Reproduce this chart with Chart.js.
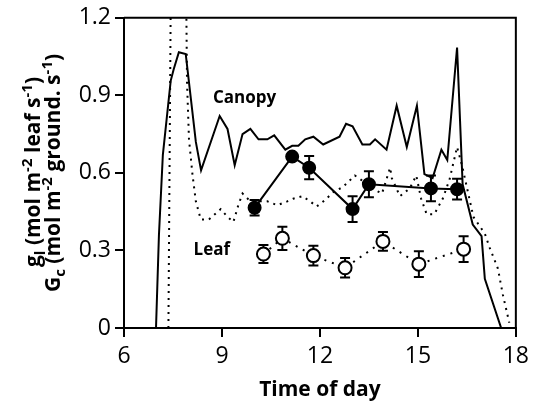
<!DOCTYPE html>
<html>
<head>
<meta charset="utf-8">
<script src="https://cdn.jsdelivr.net/npm/chart.js@4"></script>
<style>
  html, body { margin: 0; padding: 0; background: #fff; }
</style>
</head>
<body>
<canvas id="gcChart" width="535" height="403"></canvas>
<script>
// Canopy conductance, solid trace (time of day, mol m-2 ground s-1)
const canopyHours = [6.98, 7.07, 7.19, 7.43, 7.52, 7.68, 7.89, 8.2, 8.36, 8.93, 9.17, 9.39, 9.63, 9.87,
  10.12, 10.39, 10.6, 10.94, 11.15, 11.34, 11.55, 11.8, 12.1, 12.6, 12.8, 13.0, 13.3, 13.53, 13.69,
  14.04, 14.35, 14.66, 14.97, 15.2, 15.45, 15.72, 15.9, 16.2, 16.37, 16.68, 16.95, 17.05, 17.55];
const canopyValues = [0, 0.36, 0.67, 0.956, 1.0, 1.067, 1.06, 0.72, 0.61, 0.82, 0.77, 0.63, 0.75, 0.77,
  0.73, 0.73, 0.745, 0.69, 0.705, 0.705, 0.73, 0.74, 0.71, 0.74, 0.79, 0.78, 0.71, 0.71, 0.73,
  0.69, 0.86, 0.70, 0.86, 0.595, 0.58, 0.69, 0.65, 1.085, 0.556, 0.40, 0.355, 0.19, 0];

// Second canopy trace, dotted
const dottedHours = [7.36, 7.45, 7.88, 7.93, 7.99, 8.1, 8.2, 8.35, 8.6, 8.96, 9.17, 9.35, 9.5, 9.63,
  9.87, 10.18, 10.39, 10.7, 11.0, 11.18, 11.46, 11.7, 11.9, 12.16, 12.4, 12.7, 13.07, 13.3, 13.6,
  13.9, 14.15, 14.2, 14.45, 14.75, 14.95, 15.1, 15.27, 15.5, 15.76, 15.97, 16.2, 16.35, 16.7,
  17.05, 17.2, 17.45, 17.6, 17.8];
const dottedValues = [0, 1.6, 1.6, 0.95, 0.73, 0.59, 0.49, 0.42, 0.42, 0.46, 0.43, 0.41, 0.475, 0.52,
  0.49, 0.49, 0.49, 0.475, 0.49, 0.50, 0.51, 0.49, 0.47, 0.495, 0.525, 0.545, 0.59, 0.57, 0.54,
  0.52, 0.62, 0.58, 0.51, 0.54, 0.59, 0.50, 0.44, 0.44, 0.50, 0.575, 0.70, 0.63, 0.43,
  0.365, 0.31, 0.23, 0.13, 0.02];

// Filled circles (solid line) with error
const filledHours = [10.0, 11.15, 11.67, 13.0, 13.5, 15.4, 16.2];
const filledValues = [0.465, 0.663, 0.62, 0.46, 0.556, 0.54, 0.537];
const filledErr = [0.03, 0, 0.045, 0.05, 0.05, 0.05, 0.04];

// Leaf conductance, open circles (dotted line) with error
const leafHours = [10.27, 10.85, 11.8, 12.77, 13.93, 15.03, 16.4];
const leafValues = [0.286, 0.347, 0.28, 0.233, 0.335, 0.247, 0.305];
const leafErr = [0.035, 0.045, 0.038, 0.038, 0.036, 0.05, 0.05];

const xTicks = [6, 9, 12, 15, 18];
const yTicks = [0, 0.3, 0.6, 0.9, 1.2];

const toPoints = (xs, ys) => xs.map((x, i) => ({ x: x, y: ys[i] }));

// error bars, drawn under the markers
const errorBars = {
  id: "errorBars",
  beforeDatasetsDraw(chart) {
    const ctx = chart.ctx;
    const xs = chart.scales.x, ys = chart.scales.y;
    const sets = [[filledHours, filledValues, filledErr], [leafHours, leafValues, leafErr]];
    ctx.save();
    ctx.strokeStyle = "#000";
    ctx.lineWidth = 2;
    sets.forEach(function (s) {
      s[0].forEach(function (h, i) {
        if (!s[2][i]) return;
        const px = xs.getPixelForValue(h);
        const top = ys.getPixelForValue(s[1][i] + s[2][i]);
        const bot = ys.getPixelForValue(s[1][i] - s[2][i]);
        ctx.beginPath();
        ctx.moveTo(px, top); ctx.lineTo(px, bot);
        ctx.moveTo(px - 5, top); ctx.lineTo(px + 5, top);
        ctx.moveTo(px - 5, bot); ctx.lineTo(px + 5, bot);
        ctx.stroke();
      });
    });
    ctx.restore();
  }
};

// frame, labels and the two-line y title
const decorations = {
  id: "decorations",
  afterDraw(chart) {
    const ctx = chart.ctx;
    const a = chart.chartArea;
    const xs = chart.scales.x, ys = chart.scales.y;
    ctx.save();
    ctx.strokeStyle = "#000";
    ctx.lineWidth = 2;
    ctx.beginPath();
    ctx.moveTo(a.left, a.top); ctx.lineTo(a.right, a.top); ctx.lineTo(a.right, a.bottom);
    ctx.stroke();

    ctx.fillStyle = "#000";
    ctx.font = "bold 17px 'Open Sans'";
    ctx.textAlign = "center";
    ctx.textBaseline = "middle";
    ctx.fillText("Canopy", xs.getPixelForValue(9.69), ys.getPixelForValue(0.888));
    ctx.fillText("Leaf", xs.getPixelForValue(8.69), ys.getPixelForValue(0.30));

    const line1 = [["g", 0], ["l", 1], [" (mol m", 0], ["-2", -1], [" leaf s", 0], ["-1", -1], [")", 0]];
    const line2 = [["G", 0], ["c", 1], [" (mol m", 0], ["-2", -1], [" ground. s", 0], ["-1", -1], [")", 0]];
    drawRich(ctx, line1, 40, 172);
    drawRich(ctx, line2, 60, 173);
    ctx.restore();
  }
};

function drawRich(ctx, parts, bx, cy) {
  const big = "bold 21px 'Open Sans'";
  const small = "bold 15px 'Open Sans'";
  let total = 0;
  parts.forEach(function (p) {
    ctx.font = p[1] ? small : big;
    total += ctx.measureText(p[0]).width;
  });
  ctx.save();
  ctx.translate(bx, cy);
  ctx.rotate(-Math.PI / 2);
  ctx.textAlign = "left";
  ctx.textBaseline = "alphabetic";
  let x = -total / 2;
  parts.forEach(function (p) {
    ctx.font = p[1] ? small : big;
    const dy = p[1] === 1 ? 5 : p[1] === -1 ? -8 : 0;
    ctx.fillText(p[0], x, dy);
    x += ctx.measureText(p[0]).width;
  });
  ctx.restore();
}

const ctx = document.getElementById("gcChart").getContext("2d");
const gcChart = new Chart(ctx, {
  type: "line",
  data: {
    datasets: [
      {
        label: "Leaf",
        data: toPoints(leafHours, leafValues),
        borderColor: "#000",
        borderWidth: 2,
        borderDash: [2, 6],
        pointRadius: 6.5,
        pointBorderWidth: 2,
        pointBackgroundColor: "#fff",
        pointBorderColor: "#000",
      },
      {
        label: "Filled",
        data: toPoints(filledHours, filledValues),
        borderColor: "#000",
        borderWidth: 2,
        pointRadius: 6,
        pointBackgroundColor: "#000",
        pointBorderColor: "#000",
      },
      {
        label: "Canopy",
        data: toPoints(canopyHours, canopyValues),
        borderColor: "#000",
        borderWidth: 2,
        pointRadius: 0,
      },
      {
        label: "Canopy dotted",
        data: toPoints(dottedHours, dottedValues),
        borderColor: "#000",
        borderWidth: 2,
        borderDash: [2, 5],
        pointRadius: 0,
      },
    ],
  },
  options: {
    responsive: false,
    animation: false,
    layout: { padding: { top: 13, right: 19, left: 0, bottom: 0 } },
    plugins: {
      legend: { display: false },
      tooltip: { enabled: false },
    },
    scales: {
      x: {
        type: "linear",
        min: 6,
        max: 18,
        afterBuildTicks: (s) => { s.ticks = xTicks.map((v) => ({ value: v })); },
        afterFit: (s) => { s.height = 75; },
        grid: { drawOnChartArea: false, drawTicks: true, tickLength: 9, color: "#000", lineWidth: 2 },
        border: { display: true, color: "#000", width: 2 },
        ticks: { color: "#000", font: { family: "'Open Sans'", size: 23 }, padding: 6, maxRotation: 0 },
        title: { display: true, text: "Time of day", color: "#000", font: { family: "'Open Sans'", size: 21, weight: "bold" }, padding: 0 },
      },
      y: {
        min: 0,
        max: 1.2,
        afterBuildTicks: (s) => { s.ticks = yTicks.map((v) => ({ value: v })); },
        afterFit: (s) => { s.width = 124; },
        grid: { drawOnChartArea: false, drawTicks: true, tickLength: 9, color: "#000", lineWidth: 2 },
        border: { display: true, color: "#000", width: 2 },
        ticks: {
          color: "#000",
          font: { family: "'Open Sans'", size: 23 },
          padding: 4,
          callback: (v) => String(parseFloat(Number(v).toFixed(1))),
        },
      },
    },
  },
  plugins: [errorBars, decorations],
});
</script>
</body>
</html>
